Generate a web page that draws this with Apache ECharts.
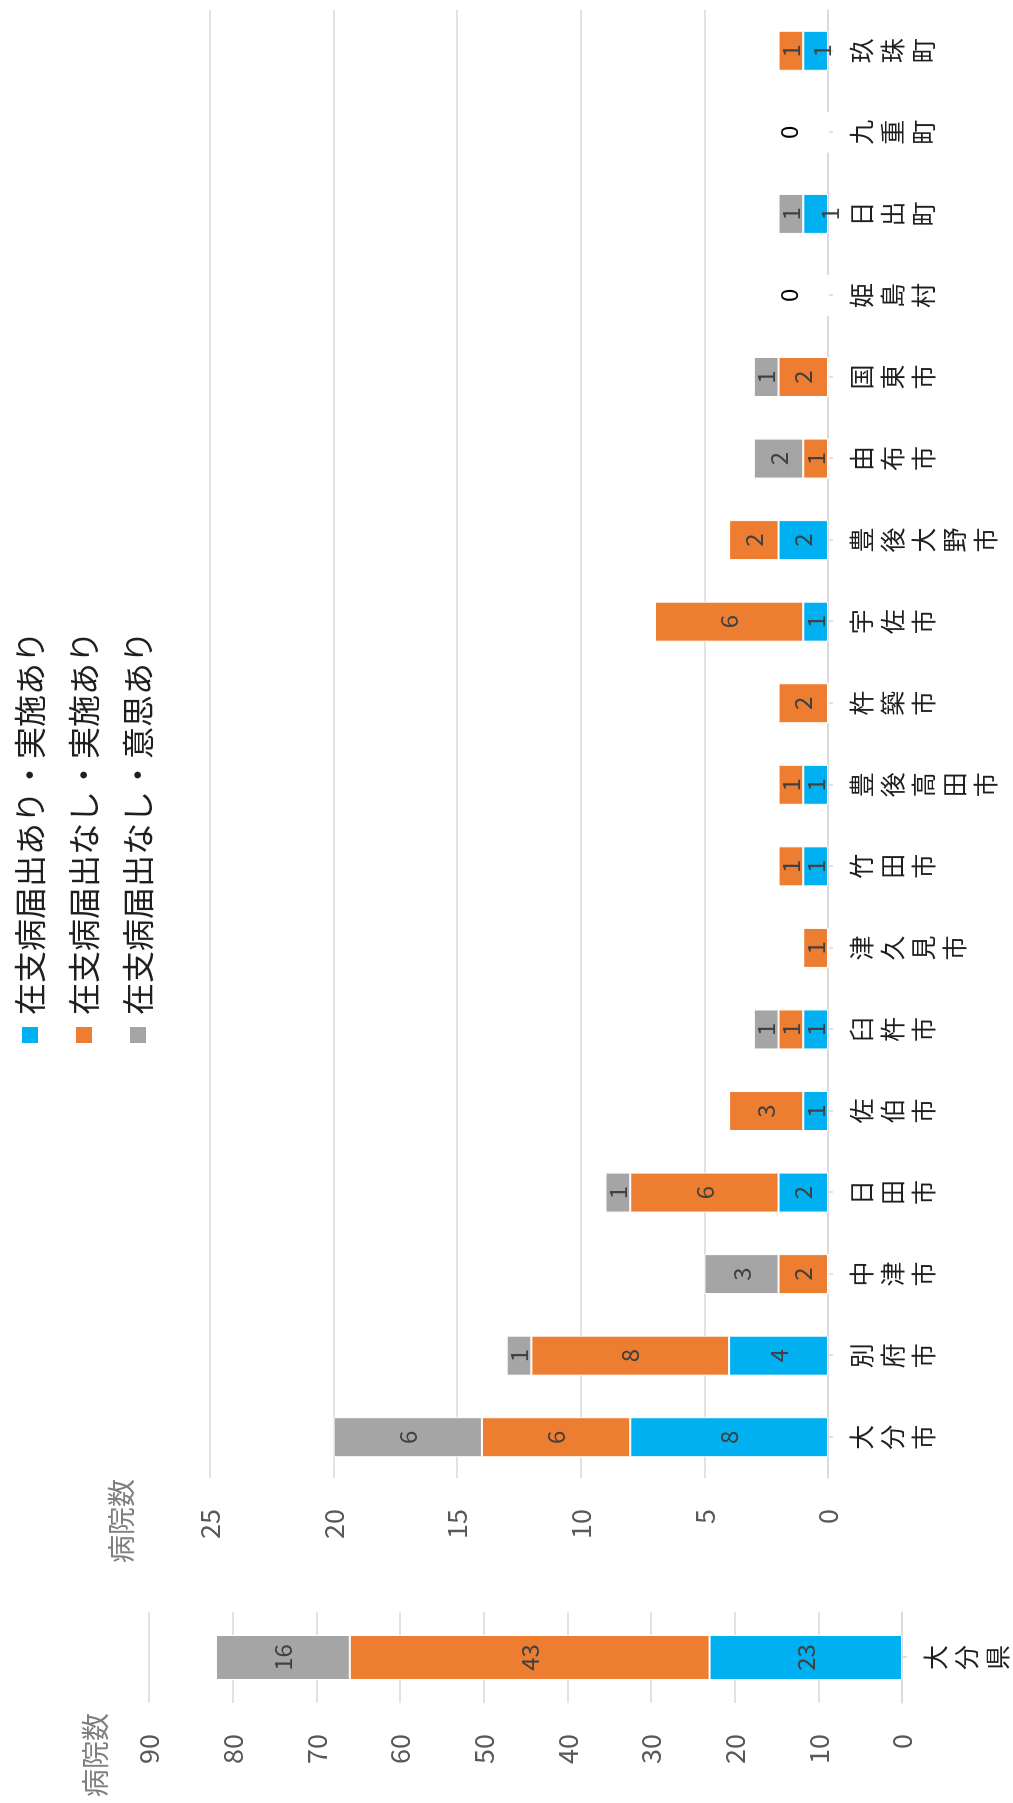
<!DOCTYPE html>
<html>
<head>
<meta charset="utf-8">
<script src="https://cdn.jsdelivr.net/npm/echarts@6/dist/echarts.min.js"></script>
<style>
  html, body { margin: 0; padding: 0; background: #fff; overflow: hidden; width: 1013px; height: 1803px; }
  /* The chart is laid out landscape and turned a quarter turn to stand upright on the page */
  #chart {
    position: absolute; left: 0; top: 0;
    width: 1803px; height: 1013px;
    transform-origin: 0 0;
    transform: translateY(1803px) rotate(-90deg);
    background: #fff;
  }
</style>
</head>
<body>
<div id="chart"></div>
<script>
// ---- data ----
const seriesNames = ['在支病届出あり・実施あり', '在支病届出なし・実施あり', '在支病届出なし・意思あり'];

const prefCategories = ['大分県'];
const prefExec = [23];
const prefNoNoticeExec = [43];
const prefIntent = [16];

const cities = ['大分市', '別府市', '中津市', '日田市', '佐伯市', '臼杵市', '津久見市', '竹田市', '豊後高田市',
                '杵築市', '宇佐市', '豊後大野市', '由布市', '国東市', '姫島村', '日出町', '九重町', '玖珠町'];
const cityExec         = [8, 4, 0, 2, 1, 1, 0, 1, 1, 0, 1, 2, 0, 0, 0, 1, 0, 1];
const cityNoNoticeExec = [6, 8, 2, 6, 3, 1, 1, 1, 1, 2, 6, 2, 1, 2, 0, 0, 0, 1];
const cityIntent       = [6, 1, 3, 1, 0, 1, 0, 0, 0, 0, 0, 0, 2, 1, 0, 1, 0, 0];

const prefAxisMax = 90, prefAxisStep = 10;
const cityAxisMax = 25, cityAxisStep = 5;
const axisTitle = '病院数';

// ---- styles ----
const COLORS = ['#00B0F0', '#ED7D31', '#A5A5A5'];
const FONT = '"Noto Sans CJK JP", "Noto Sans", sans-serif';
const GRID_COLOR = '#D9D9D9';

const chart = echarts.init(document.getElementById('chart'), null, { renderer: 'canvas' });

// segment labels: value shown in the middle of each non-empty segment
function segmentData(values, tweaks) {
  return values.map((v, i) => {
    const item = { value: v };
    if (v === 0) item.label = { show: false };
    else if (tweaks && tweaks[i]) item.label = { offset: tweaks[i] };
    return item;
  });
}

// top segment also carries a "0" above the axis where a town has no hospitals at all
function topSegmentData(values, totals) {
  return values.map((v, i) => {
    const item = { value: v };
    if (totals[i] === 0) {
      item.label = { show: true, position: 'top', distance: 27, color: '#000', formatter: String(totals[i]) };
    } else if (v === 0) {
      item.label = { show: false };
    }
    return item;
  });
}

const cityTotals = cities.map((_, i) => cityExec[i] + cityNoNoticeExec[i] + cityIntent[i]);

const segLabel = {
  show: true, position: 'inside', color: '#404040', fontSize: 24, fontFamily: FONT, formatter: '{c}'
};

function barSeries(name, idx, axis, stack, data, width) {
  return {
    name, type: 'bar', stack, xAxisIndex: axis, yAxisIndex: axis,
    barWidth: width, data,
    itemStyle: { color: COLORS[idx], borderColor: '#fff', borderWidth: 1 },
    label: segLabel,
    emphasis: { disabled: true }
  };
}

function categoryAxis(gridIndex, data) {
  return {
    type: 'category', gridIndex, data,
    axisLine: { show: true, lineStyle: { color: GRID_COLOR, width: 1.5 } },
    axisTick: { show: true, alignWithLabel: true, length: 5, lineStyle: { color: GRID_COLOR, width: 1.5 } },
    axisLabel: {
      interval: 0, margin: 18, fontSize: 25, lineHeight: 31, color: '#1f1f1f', fontFamily: FONT,
      formatter: v => v.split('').join('\n')
    }
  };
}

function valueAxis(gridIndex, max, step) {
  return {
    type: 'value', gridIndex, min: 0, max, interval: step,
    axisLine: { show: false }, axisTick: { show: false },
    splitLine: { show: true, lineStyle: { color: GRID_COLOR, width: 1.5 } },
    axisLabel: { margin: 31, fontSize: 27, color: '#595959', fontFamily: FONT }
  };
}

const option = {
  backgroundColor: '#fff',
  animation: false,
  textStyle: { fontFamily: FONT },
  legend: {
    orient: 'vertical', left: 753, top: 9,
    itemWidth: 18, itemHeight: 18, itemGap: 22, icon: 'rect',
    textStyle: { fontSize: 32, lineHeight: 32, color: '#1f1f1f', fontFamily: FONT, padding: [0, 0, 0, 6] },
    data: seriesNames
  },
  grid: [
    { left: 100, width: 91, top: 149, bottom: 108 },
    { left: 325, right: 10, top: 210, bottom: 185 }
  ],
  xAxis: [categoryAxis(0, prefCategories), categoryAxis(1, cities)],
  yAxis: [valueAxis(0, prefAxisMax, prefAxisStep), valueAxis(1, cityAxisMax, cityAxisStep)],
  graphic: [
    { type: 'text', left: 6, top: 81, style: { text: axisTitle, fontSize: 28, fill: '#7f7f7f', fontFamily: FONT } },
    { type: 'text', left: 240, top: 107, style: { text: axisTitle, fontSize: 28, fill: '#7f7f7f', fontFamily: FONT } }
  ],
  series: [
    barSeries(seriesNames[0], 0, 0, 'pref', segmentData(prefExec), 45),
    barSeries(seriesNames[1], 1, 0, 'pref', segmentData(prefNoNoticeExec), 45),
    barSeries(seriesNames[2], 2, 0, 'pref', segmentData(prefIntent), 45),
    barSeries(seriesNames[0], 0, 1, 'city', segmentData(cityExec, { 15: [0, 14], 17: [0, 6] }), 40),
    barSeries(seriesNames[1], 1, 1, 'city', segmentData(cityNoNoticeExec), 40),
    barSeries(seriesNames[2], 2, 1, 'city', topSegmentData(cityIntent, cityTotals), 40)
  ]
};

chart.setOption(option);
</script>
</body>
</html>
